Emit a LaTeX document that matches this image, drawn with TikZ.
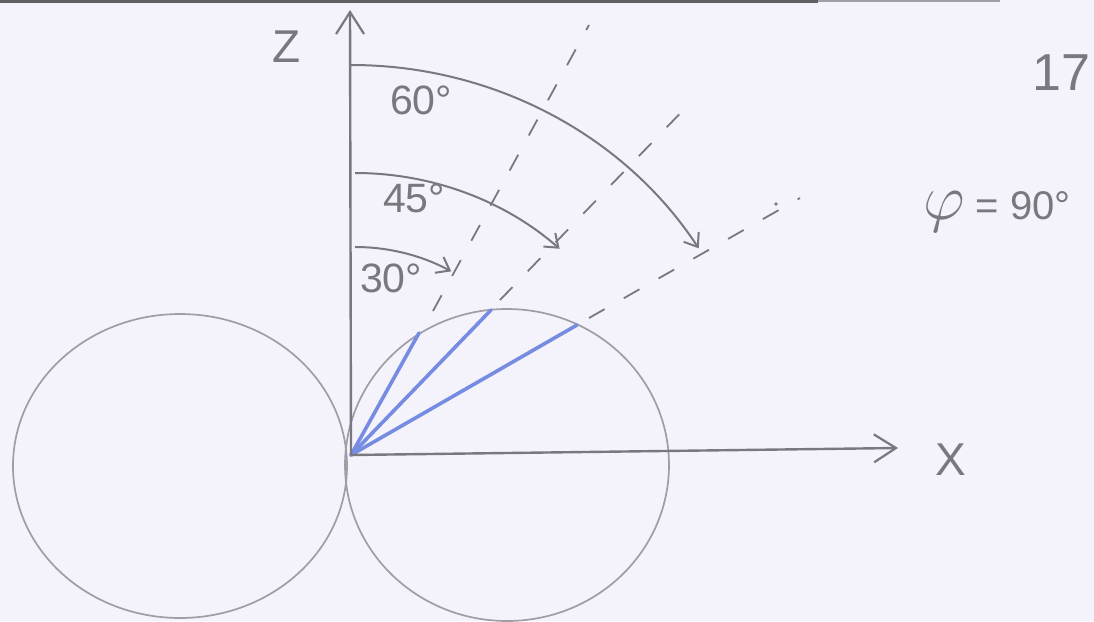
\documentclass[tikz,border=0pt]{standalone}
\usepackage{fontspec}
\setmainfont{Liberation Sans}
\usetikzlibrary{arrows.meta}
\definecolor{paper}{RGB}{244,242,250}
\definecolor{pencil}{RGB}{120,120,126}
\definecolor{lightpencil}{RGB}{158,158,164}
\definecolor{bluepencil}{RGB}{118,140,226}
\definecolor{scanedge}{RGB}{95,95,100}
\tikzset{
  axisline/.style={draw=pencil, line width=2.4pt, -{Straight Barb[length=22pt,width=28pt,line width=2.2pt]}},
  lobe/.style={draw=lightpencil, line width=1.7pt},
  ray/.style={draw=bluepencil, line width=3.6pt, line cap=round},
  guide/.style={draw=pencil, line width=1.8pt, dash pattern=on 18pt off 22pt},
  anglearc/.style={draw=pencil, line width=2pt, -{Straight Barb[length=12pt,width=18pt,line width=2pt]}},
  lbl/.style={text=pencil, inner sep=0pt, anchor=center}
}
\begin{document}
\begin{tikzpicture}[x=1pt,y=-1pt]
\fill[paper] (0,0) rectangle (1094,621);
\useasboundingbox (0,0) rectangle (1094,621);
\fill[scanedge] (0,0) rectangle (818,3);
\fill[lightpencil] (818,0) rectangle (1000,2);

% key points
\coordinate (O) at (351,455);
\coordinate (ztip) at (350,10);
\coordinate (xtip) at (898,448);

% lobes
\draw[lobe] (180,466) ellipse[x radius=167, y radius=152];
\draw[lobe] (507,465) ellipse[x radius=162, y radius=156];

% blue rays
\coordinate (b60) at (419,333);
\coordinate (b45) at (491,310);
\coordinate (b30) at (577,325);
\draw[ray] (O) -- (b60);
\draw[ray] (O) -- (b45);
\draw[ray] (O) -- (b30);

% dashed guide lines
\coordinate (d60s) at (433,311);
\coordinate (d60e) at (589,25);
\coordinate (d45s) at (500,300);
\coordinate (d45e) at (693,100);
\coordinate (d30s) at (589,318);
\coordinate (d30e) at (800,198);
\coordinate (d30dot) at (776,204);
\draw[guide] (d60s) -- (d60e);
\draw[guide] (d45s) -- (d45e);
\draw[guide] (d30s) -- (d30e);
\fill[pencil] (d30dot) circle[radius=1.8];

% axes
\draw[axisline] (O) -- (ztip);
\draw[axisline] (O) -- (xtip);

% angle arcs
\coordinate (a60s) at (351,65);
\coordinate (a45s) at (355,173);
\coordinate (a30s) at (355,247);
\draw[anglearc] (a60s) arc[start angle=-90, end angle=-32, x radius=410, y radius=390];
\draw[anglearc] (a45s) arc[start angle=-90, end angle=-47, x radius=300, y radius=282];
\draw[anglearc] (a30s) arc[start angle=-90, end angle=-62, x radius=205, y radius=208];

% labels
\node[lbl, font=\fontsize{46}{46}\selectfont] (zlabel) at (287,47) {Z};
\node[lbl, font=\fontsize{46}{46}\selectfont] (xlabel) at (951,460) {X};
\node[lbl, font=\fontsize{41}{41}\selectfont] (l60) at (421,100) {60°};
\node[lbl, font=\fontsize{41}{41}\selectfont] (l45) at (414,198) {45°};
\node[lbl, font=\fontsize{41}{41}\selectfont] (l30) at (391,278) {30°};
\node[lbl, font=\fontsize{52}{52}\selectfont] (page) at (1061,73) {17};
\node[lbl, font=\fontsize{40}{40}\selectfont] (phi) at (997,212) {\scalebox{2.6}{$\varphi$} = 90°};
\end{tikzpicture}
\end{document}
